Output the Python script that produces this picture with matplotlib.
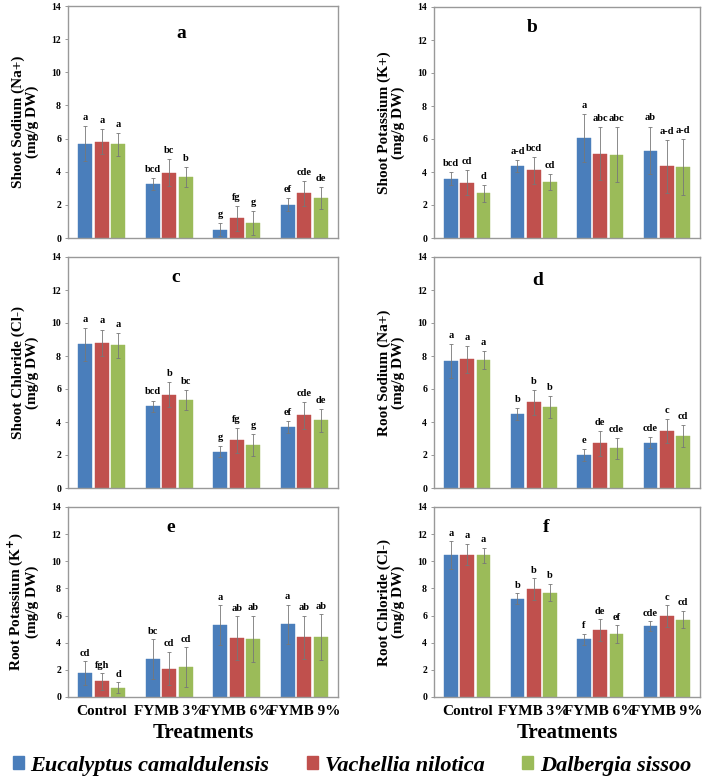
import matplotlib
matplotlib.use("Agg")
import matplotlib.pyplot as plt
from matplotlib.patches import Patch
import numpy as np

plt.rcParams['font.family'] = ['Liberation Serif', 'DejaVu Serif']
plt.rcParams['font.weight'] = 'bold'

treatments = ["Control", "FYMB 3%", "FYMB 6%", "FYMB 9%"]
species = ["Eucalyptus camaldulensis", "Vachellia nilotica", "Dalbergia sissoo"]
colors = ["#4a7ebb", "#c0504d", "#9bbb59"]

# panel a - shoot sodium
a_vals = [[5.7, 3.25, 0.5, 2.0], [5.8, 3.95, 1.2, 2.7], [5.65, 3.7, 0.9, 2.4]]
a_err = [[1.05, 0.35, 0.4, 0.4], [0.75, 0.8, 0.75, 0.75], [0.7, 0.6, 0.7, 0.65]]
a_let = [["a", "bcd", "g", "ef"], ["a", "bc", "fg", "cde"], ["a", "b", "g", "de"]]

# panel b - shoot potassium
b_vals = [[3.6, 4.35, 6.05, 5.3], [3.35, 4.1, 5.1, 4.35], [2.7, 3.4, 5.05, 4.3]]
b_err = [[0.4, 0.35, 1.45, 1.45], [0.75, 0.8, 1.6, 1.6], [0.5, 0.5, 1.65, 1.7]]
b_let = [["bcd", "a-d", "a", "ab"], ["cd", "bcd", "abc", "a-d"], ["d", "cd", "abc", "a-d"]]

# panel c - shoot chloride
c_vals = [[8.7, 4.95, 2.2, 3.7], [8.8, 5.65, 2.9, 4.4], [8.65, 5.35, 2.6, 4.1]]
c_err = [[1.0, 0.35, 0.35, 0.35], [0.8, 0.75, 0.75, 0.8], [0.75, 0.6, 0.65, 0.7]]
c_let = [["a", "bcd", "g", "ef"], ["a", "b", "fg", "cde"], ["a", "bc", "g", "de"]]

# panel d - root sodium
d_vals = [[7.7, 4.5, 2.0, 2.75], [7.8, 5.2, 2.7, 3.45], [7.75, 4.9, 2.4, 3.15]]
d_err = [[1.05, 0.35, 0.35, 0.35], [0.8, 0.75, 0.75, 0.75], [0.55, 0.65, 0.65, 0.65]]
d_let = [["a", "b", "e", "cde"], ["a", "b", "de", "c"], ["a", "b", "cde", "cd"]]

# panel e - root potassium
e_vals = [[1.75, 2.8, 5.3, 5.35], [1.15, 2.1, 4.35, 4.4], [0.7, 2.2, 4.3, 4.4]]
e_err = [[0.9, 1.45, 1.45, 1.45], [0.6, 1.25, 1.6, 1.6], [0.4, 1.45, 1.7, 1.7]]
e_let = [["cd", "bc", "a", "a"], ["fgh", "cd", "ab", "ab"], ["d", "cd", "ab", "ab"]]

# panel f - root chloride
f_vals = [[10.45, 7.25, 4.25, 5.25], [10.5, 7.95, 4.95, 5.95], [10.45, 7.7, 4.65, 5.7]]
f_err = [[1.05, 0.4, 0.4, 0.35], [0.8, 0.8, 0.8, 0.8], [0.55, 0.65, 0.65, 0.65]]
f_let = [["a", "b", "f", "cde"], ["a", "b", "de", "c"], ["a", "b", "ef", "cd"]]

ylabels = ["Shoot Sodium (Na+)\n(mg/g DW)", "Shoot Potassium (K+)\n(mg/g DW)",
           "Shoot Chloride (Cl-)\n(mg/g DW)", "Root Sodium (Na+)\n(mg/g DW)",
           "Root Potassium (K$^{+}$)\n(mg/g DW)", "Root Chloride (Cl-)\n(mg/g DW)"]

W, H = 704, 782
fig = plt.figure(figsize=(W / 100, H / 100), dpi=100)

def px_axes(x0, y0, x1, y1):
    return fig.add_axes([x0 / W, 1 - y1 / H, (x1 - x0) / W, (y1 - y0) / H])

boxes = [(68, 6, 338, 238), (434, 7, 700, 238),
         (68, 257, 338, 488), (434, 257, 700, 488),
         (68, 507, 338, 697), (434, 507, 700, 697)]
panels = [(a_vals, a_err, a_let), (b_vals, b_err, b_let), (c_vals, c_err, c_let),
          (d_vals, d_err, d_let), (e_vals, e_err, e_let), (f_vals, f_err, f_let)]
names = ["a", "b", "c", "d", "e", "f"]
name_pos = [(0.42, 0.88), (0.37, 0.91), (0.40, 0.91), (0.39, 0.90), (0.38, 0.89), (0.42, 0.89)]

x = np.arange(len(treatments))
pitch, bw = 0.245, 0.205

for i, (box, (vals, errs, lets)) in enumerate(zip(boxes, panels)):
    ax = px_axes(*box)
    for s in range(3):
        pos = x + (s - 1) * pitch
        ax.bar(pos, vals[s], bw, color=colors[s], edgecolor=colors[s], linewidth=0.3, zorder=2)
        ax.errorbar(pos, vals[s], yerr=errs[s], fmt='none', ecolor='#777777',
                    elinewidth=0.6, capsize=1.2, capthick=0.6, zorder=3)
        for xp, v, e, t in zip(pos, vals[s], errs[s], lets[s]):
            ax.text(xp, v + e + 0.25, t, ha='center', va='bottom', fontsize=7.5, fontweight='bold')
    ax.set_xlim(-0.5, 3.5)
    ax.set_ylim(0, 14)
    ax.set_yticks(range(0, 15, 2))
    ax.tick_params(axis='y', labelsize=7, length=2, width=0.6, color='#888888', pad=3)
    for sp in ax.spines.values():
        sp.set_color('#999999')
        sp.set_linewidth(1.0)
    ax.set_ylabel(ylabels[i], fontsize=11, fontweight='bold', labelpad=9, linespacing=1.0)
    ax.text(name_pos[i][0], name_pos[i][1], names[i], transform=ax.transAxes,
            fontsize=14, fontweight='bold', ha='center', va='center')
    if i >= 4:
        ax.set_xticks(x)
        ax.set_xticklabels(treatments, fontsize=11, fontweight='bold')
        ax.tick_params(axis='x', length=0, pad=6)
        ax.set_xlabel("Treatments", fontsize=15, fontweight='bold', labelpad=3)
    else:
        ax.set_xticks([])

handles = [Patch(color=c) for c in colors]
fig.legend(handles, species, loc='center', bbox_to_anchor=(0.5, 0.021), ncol=3,
           frameon=False, handlelength=0.5, handleheight=0.5, handletextpad=0.3,
           columnspacing=1.7, borderaxespad=0, borderpad=0,
           prop={'family': 'Liberation Serif', 'style': 'italic', 'weight': 'bold', 'size': 16})

fig.savefig("out.png", dpi=100)
